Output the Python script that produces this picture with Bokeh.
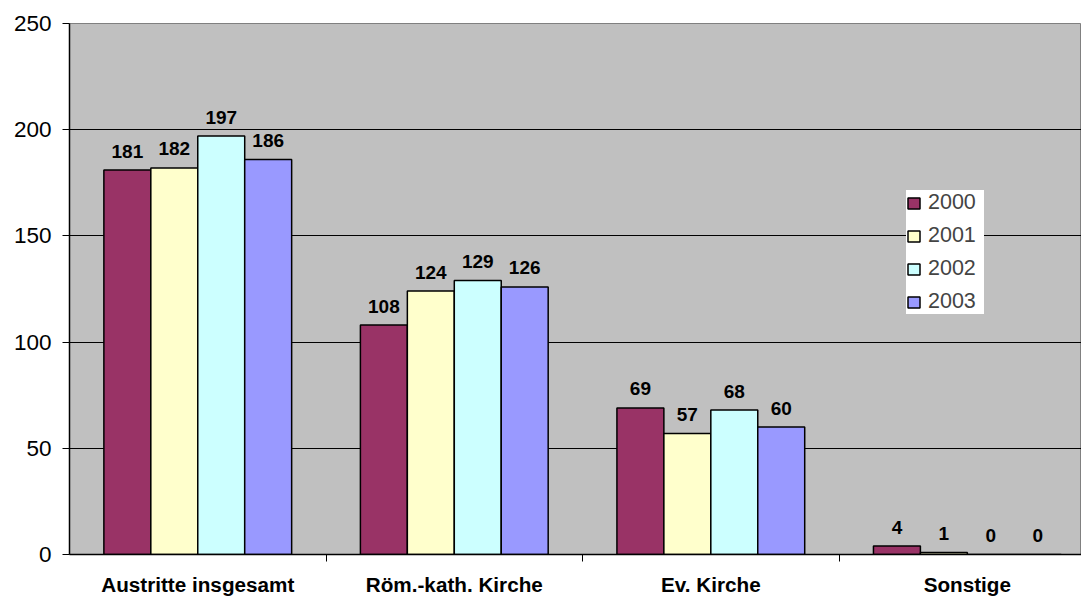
from bokeh.plotting import figure
from bokeh.models import ColumnDataSource, Range1d, FixedTicker, Legend, LegendItem
from bokeh.embed import file_html
from bokeh.resources import INLINE
from bokeh.core.properties import value

categories = ["Austritte insgesamt", "Röm.-kath. Kirche", "Ev. Kirche", "Sonstige"]
years = ["2000", "2001", "2002", "2003"]
v2000 = [181, 108, 69, 4]
v2001 = [182, 124, 57, 1]
v2002 = [197, 129, 68, 0]
v2003 = [186, 126, 60, 0]
series = [v2000, v2001, v2002, v2003]
colors = ["#993366", "#FFFFCC", "#CCFFFF", "#9999FF"]
y_ticks = [0, 50, 100, 150, 200, 250]
grid_ticks = [50, 100, 150, 200]

FONT = "Liberation Sans"
BAR_W = 0.183

p = figure(width=1081, height=598, output_backend="svg", toolbar_location=None,
           x_range=Range1d(0, 3.945), y_range=Range1d(0, 250))
p.min_border = 0
p.min_border_left = 69
p.min_border_top = 23
p.min_border_bottom = 43
p.min_border_right = 0
p.background_fill_color = "#C0C0C0"
p.border_fill_color = "white"
p.outline_line_color = "#808080"
p.outline_line_width = 1

centers = [i + 0.5 for i in range(len(categories))]

items = []
for k, (yr, vals, col) in enumerate(zip(years, series, colors)):
    off = (k - 1.5) * BAR_W
    xs = [c + off for c in centers]
    src = ColumnDataSource(dict(x=xs, top=vals, lab=[str(v) for v in vals]))
    r = p.vbar(x="x", top="top", bottom=0, width=BAR_W, source=src,
               fill_color=col, line_color="black", line_width=1.5)
    p.text(x="x", y="top", text="lab", source=src, text_align="center",
           text_baseline="alphabetic", y_offset=-19, text_font=value(FONT),
           text_font_style="bold", text_font_size="19px", text_color="black")
    items.append(LegendItem(label=yr, renderers=[r]))

legend = Legend(items=items, location=(837, 240), padding=9, spacing=8,
                label_height=23, label_width=56, glyph_width=15, glyph_height=14,
                label_standoff=7, margin=0,
                label_text_font=FONT, label_text_font_size="21.5px",
                background_fill_color="white", background_fill_alpha=1.0,
                border_line_color=None)
p.add_layout(legend)

# x axis
p.xaxis.ticker = FixedTicker(ticks=centers, minor_ticks=[1, 2, 3])
p.xaxis.major_label_overrides = {c: name for c, name in zip(centers, categories)}
p.xaxis.major_tick_out = 0
p.xaxis.major_tick_in = 0
p.xaxis.minor_tick_out = 7
p.xaxis.minor_tick_in = 0
p.xaxis.minor_tick_line_color = "black"
p.xaxis.axis_line_color = "black"
p.xaxis.axis_line_width = 1.5
p.xaxis.major_label_standoff = 11
p.xaxis.major_label_text_font = FONT
p.xaxis.major_label_text_font_style = "bold"
p.xaxis.major_label_text_font_size = "20.7px"
p.xaxis.major_label_text_color = "black"

# y axis
p.yaxis.ticker = FixedTicker(ticks=y_ticks)
p.yaxis.major_tick_out = 7
p.yaxis.major_tick_in = 0
p.yaxis.minor_tick_line_color = None
p.yaxis.major_tick_line_color = "black"
p.yaxis.axis_line_color = "black"
p.yaxis.axis_line_width = 1.5
p.yaxis.major_label_standoff = 11
p.yaxis.major_label_text_font = FONT
p.yaxis.major_label_text_font_size = "22.5px"
p.yaxis.major_label_text_color = "black"

p.xgrid.visible = False
p.ygrid.ticker = FixedTicker(ticks=grid_ticks)
p.ygrid.grid_line_color = "black"
p.ygrid.grid_line_width = 1

open("out.html", "w").write(file_html(p, INLINE))
